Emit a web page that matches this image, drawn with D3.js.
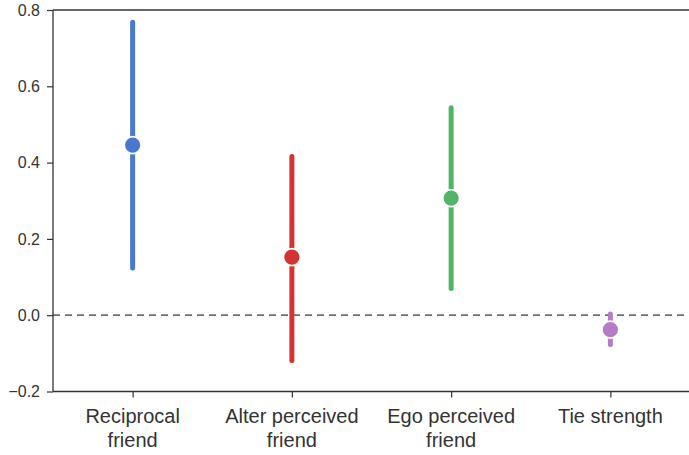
<!DOCTYPE html>
<html><head><meta charset="utf-8">
<script src="https://cdn.jsdelivr.net/npm/d3@7"></script>
<style>body{margin:0;background:#fff}svg{display:block}</style>
</head><body>
<svg id="c" width="689" height="455"></svg>
<script>
const categories = [["Reciprocal","friend"],["Alter perceived","friend"],["Ego perceived","friend"],["Tie strength"]];
const estimates = [0.446, 0.152, 0.307, -0.038];
const lower = [0.124, -0.119, 0.070, -0.077];
const upper = [0.768, 0.416, 0.544, 0.003];
const colors = ["#4878CF", "#D23333", "#52B566", "#B47CC7"];
const yTicks = [-0.2, 0.0, 0.2, 0.4, 0.6, 0.8];

(function(){
const svg = d3.select("#c");
const pl = 53, pr = 690, pt = 10, pb = 391.5;
const idx = categories.map((d,i)=>i);
const x = d3.scalePoint().domain(idx).range([pl, pr]).padding(0.5);
const y = d3.scaleLinear().domain([-0.2, 0.8]).range([pb, pt]);
const font = "'Liberation Sans', Arial, Helvetica, sans-serif";

svg.append("line").attr("x1", pl).attr("x2", pr).attr("y1", y(0)).attr("y2", y(0))
  .attr("stroke", "#6e6e6e").attr("stroke-width", 1.7).attr("stroke-dasharray", "7,5");

idx.forEach(i => {
  svg.append("line").attr("x1", x(i)).attr("x2", x(i)).attr("y1", y(lower[i])).attr("y2", y(upper[i]))
    .attr("stroke", colors[i]).attr("stroke-width", 5).attr("stroke-linecap", "round");
  svg.append("circle").attr("cx", x(i)).attr("cy", y(estimates[i])).attr("r", 8.5)
    .attr("fill", colors[i]).attr("stroke", "#fff").attr("stroke-width", 1.8);
});

const yAxis = d3.axisLeft(y).tickValues(yTicks).tickSize(6).tickPadding(7)
  .tickFormat(d => d3.format(".1f")(d).replace("-", "\u2212"));
const gy = svg.append("g").attr("transform", `translate(${pl},0)`).call(yAxis);
gy.select(".domain").remove();
gy.selectAll("line").attr("stroke", "#333").attr("stroke-width", 1.2);
gy.selectAll("text").attr("font-family", font).attr("font-size", 16).attr("fill", "#333");

const xAxis = d3.axisBottom(x).tickSize(6).tickFormat("");
const gx = svg.append("g").attr("transform", `translate(0,${pb})`).call(xAxis);
gx.select(".domain").remove();
gx.selectAll("line").attr("stroke", "#333").attr("stroke-width", 1.2);

svg.append("line").attr("x1", pl).attr("x2", pl).attr("y1", pt).attr("y2", pb).attr("stroke", "#333").attr("stroke-width", 1.3);
svg.append("line").attr("x1", pl).attr("x2", pr).attr("y1", pt).attr("y2", pt).attr("stroke", "#333").attr("stroke-width", 1.3);
svg.append("line").attr("x1", pl).attr("x2", pr).attr("y1", pb).attr("y2", pb).attr("stroke", "#333").attr("stroke-width", 1.3);
svg.append("line").attr("x1", pr).attr("x2", pr).attr("y1", pt).attr("y2", pb).attr("stroke", "#333").attr("stroke-width", 1.3);

idx.forEach(i => {
  const t = svg.append("text").attr("x", x(i)).attr("y", 423).attr("text-anchor", "middle")
    .attr("font-family", font).attr("font-size", 20).attr("fill", "#333");
  categories[i].forEach((s, k) => {
    t.append("tspan").attr("x", x(i)).attr("dy", k === 0 ? 0 : 24).text(s);
  });
});
})();
</script>
</body></html>
